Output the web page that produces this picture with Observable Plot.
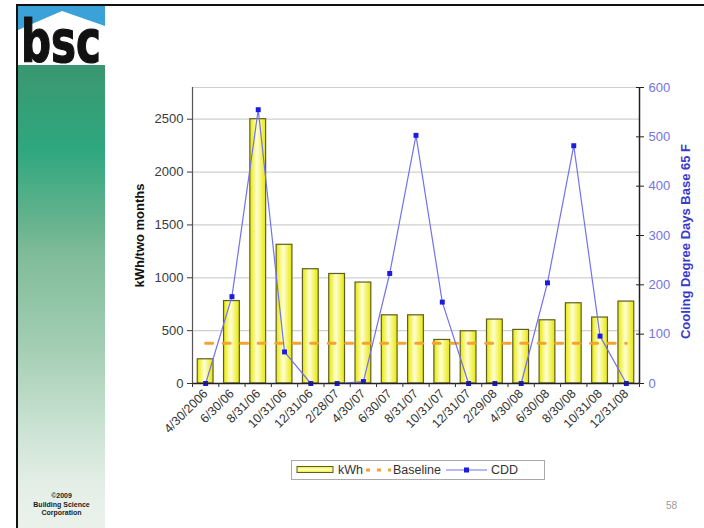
<!DOCTYPE html>
<html><head><meta charset="utf-8">
<script src="https://cdn.jsdelivr.net/npm/d3@7"></script>
<script src="https://cdn.jsdelivr.net/npm/@observablehq/plot@0.6"></script>
<style>
body{margin:0;background:#fff;}
#slide{position:relative;width:704px;height:528px;overflow:hidden;font-family:"Liberation Sans",Arial,sans-serif;background:#fff;}
#chart{position:absolute;left:0;top:0;}
#vline{position:absolute;left:16px;top:4px;width:2px;height:524px;background:#111;}
#hline{position:absolute;left:16px;top:4px;width:688px;height:2px;background:#111;}
#logo{position:absolute;left:18px;top:6px;width:150px;height:74px;pointer-events:none;}
#logo svg{display:block;}
#green{position:absolute;left:18px;top:65px;width:87px;height:463px;
 background:linear-gradient(to bottom,#3a9570 0%,#389b73 4%,#2ea77f 18%,#6db590 36%,#7dbb98 40%,#a5cfb5 62%,#c5e0cf 76%,#e3eee6 90%,#ebf2ec 100%);}
#copy{position:absolute;left:18px;top:492px;width:87px;text-align:center;font-weight:bold;font-size:7px;line-height:8.5px;color:#222;}
#page{position:absolute;left:666px;top:500px;font-size:10px;color:#9a9a9a;}
#legend{position:absolute;left:291px;top:460px;width:252px;height:18px;border:1px solid #aaa;display:flex;align-items:center;font-size:12.5px;color:#333;box-sizing:content-box;}
#legend svg{display:block;}
</style></head><body>
<div id="slide">
  <div id="chart"></div>
  <div id="hline"></div>
  <div id="vline"></div>
  <div id="green"></div>
  <div id="logo">
    <svg width="150" height="74">
      <rect x="0" y="0" width="87" height="59" fill="#fff"/>
      <polygon points="0,0 87,0 87,20 44,5 0,24" fill="#3ba1d9"/>
      <text x="3" y="56" font-family="Liberation Sans Narrow, DejaVu Sans Condensed, sans-serif" font-weight="bold" font-size="58" textLength="80" lengthAdjust="spacingAndGlyphs" fill="#111" stroke="#111" stroke-width="1.2">bsc</text>
    </svg>
  </div>
  <div id="copy">©2009<br>Building Science<br>Corporation</div>
  <div id="page">58</div>
  <div id="legend">
    <svg width="42" height="10" style="margin-left:4px"><defs><linearGradient id="legGrad" x1="0" x2="0" y1="0" y2="1"><stop offset="0" stop-color="#eeee20"/><stop offset="0.5" stop-color="#ffffc8"/><stop offset="1" stop-color="#eeee20"/></linearGradient></defs><rect x="1" y="1.5" width="36" height="6" fill="url(#legGrad)" stroke="#5e5e22" stroke-width="1"/></svg>
    <span>kWh</span>
    <svg width="30" height="10"><line x1="3" x2="28" y1="5" y2="5" stroke="#f3a331" stroke-width="3" stroke-dasharray="4,7"/></svg>
    <span>Baseline</span>
    <svg width="50" height="10"><line x1="5" x2="46" y1="5" y2="5" stroke="#7272ee" stroke-width="1.2"/><rect x="23" y="2.5" width="5" height="5" fill="#1c1ce0"/></svg>
    <span>CDD</span>
  </div>
</div>
<script>
const categories = ["4/30/2006","6/30/06","8/31/06","10/31/06","12/31/06","2/28/07","4/30/07","6/30/07","8/31/07","10/31/07","12/31/07","2/29/08","4/30/08","6/30/08","8/30/08","10/31/08","12/31/08"];
const kwh = [229,780,2500,1312,1081,1036,955,645,645,412,494,605,507,598,759,624,775];
const cdd = [0,176,555,64,0,0,4,223,503,165,0,0,0,204,482,96,0];
const baselineKwh = 380;
const kwhTicks = [0,500,1000,1500,2000,2500];
const cddTicks = [0,100,200,300,400,500,600];
const kwhMax = 2800;
const cddMax = 600;

const toLeft = v => v * kwhMax / cddMax;
const data = categories.map((c, i) => ({i, c, kwh: kwh[i], cdd: cdd[i], cddY: toLeft(cdd[i]), base: baselineKwh}));
const n = categories.length;

const chart = Plot.plot({
  width: 704, height: 528,
  marginLeft: 192, marginRight: 65, marginTop: 87, marginBottom: 145,
  style: {background: "transparent", fontFamily: "Liberation Sans, Arial, sans-serif", fontSize: "13px", overflow: "visible"},
  x: {type: "linear", domain: [-0.5, n - 0.5]},
  y: {domain: [0, kwhMax]},
  marks: [
    Plot.ruleY(kwhTicks.slice(1).concat([kwhMax]), {stroke: "#cfcfcf", strokeWidth: 1.2}),
    Plot.rectY(data, {x1: d => d.i - 0.3, x2: d => d.i + 0.3, y1: 0, y2: "kwh", fill: "url(#barGrad)", stroke: "#5e5e22", strokeWidth: 1.2}),
    Plot.lineY(data, {x: "i", y: "base", stroke: "#f3a331", strokeWidth: 3, strokeDasharray: "7,10.5"}),
    Plot.lineY(data, {x: "i", y: "cddY", stroke: "#7272ee", strokeWidth: 1.2}),
    Plot.dot(data, {x: "i", y: "cddY", symbol: "square", r: 2.8, fill: "#1c1ce0", stroke: "none"}),
    Plot.ruleX([-0.5], {stroke: "#555", strokeWidth: 1.2}),
    Plot.ruleX([n - 0.5], {stroke: "#222", strokeWidth: 1.5}),
    Plot.ruleY([0], {stroke: "#222", strokeWidth: 1.5}),
    Plot.axisY(kwhTicks, {anchor: "left", tickSize: 5, tickPadding: 4, tickFormat: v => String(v), color: "#3a3a3a", label: null}),
    Plot.axisY(cddTicks.map(toLeft), {anchor: "right", tickSize: 4, tickPadding: 5, tickFormat: v => String(Math.round(v * cddMax / kwhMax)), color: "#7373e2", stroke: "#222", label: null}),
    Plot.axisY(cddTicks.map(toLeft), {anchor: "right", tickSize: -4, tickFormat: () => "", stroke: "#222", label: null}),
    Plot.axisX(d3.range(n), {tickFormat: i => categories[i], tickRotate: -45, tickSize: 0, tickPadding: 8, fontSize: 12.5, color: "#333", label: null}),
    Plot.axisX(d3.range(n + 1).map(i => i - 0.5), {tickFormat: () => "", tickSize: 4, stroke: "#333", label: null}),
    Plot.text(["kWh/two months"], {frameAnchor: "left", textAnchor: "middle", dx: -53, rotate: -90, fontWeight: "bold", fontSize: 13, fill: "#111"}),
    Plot.text(["Cooling Degree Days Base 65 F"], {frameAnchor: "right", textAnchor: "middle", dx: 46, dy: 6, rotate: -90, fontWeight: "bold", fontSize: 13, fill: "#3a3acc"})
  ]
});
chart.insertAdjacentHTML("afterbegin", '<defs><linearGradient id="barGrad" x1="0" x2="1" y1="0" y2="0"><stop offset="0" stop-color="#e8e800"/><stop offset="0.45" stop-color="#ffffd6"/><stop offset="1" stop-color="#e8e800"/></linearGradient></defs>');
document.getElementById("chart").appendChild(chart);
</script>
</body></html>
